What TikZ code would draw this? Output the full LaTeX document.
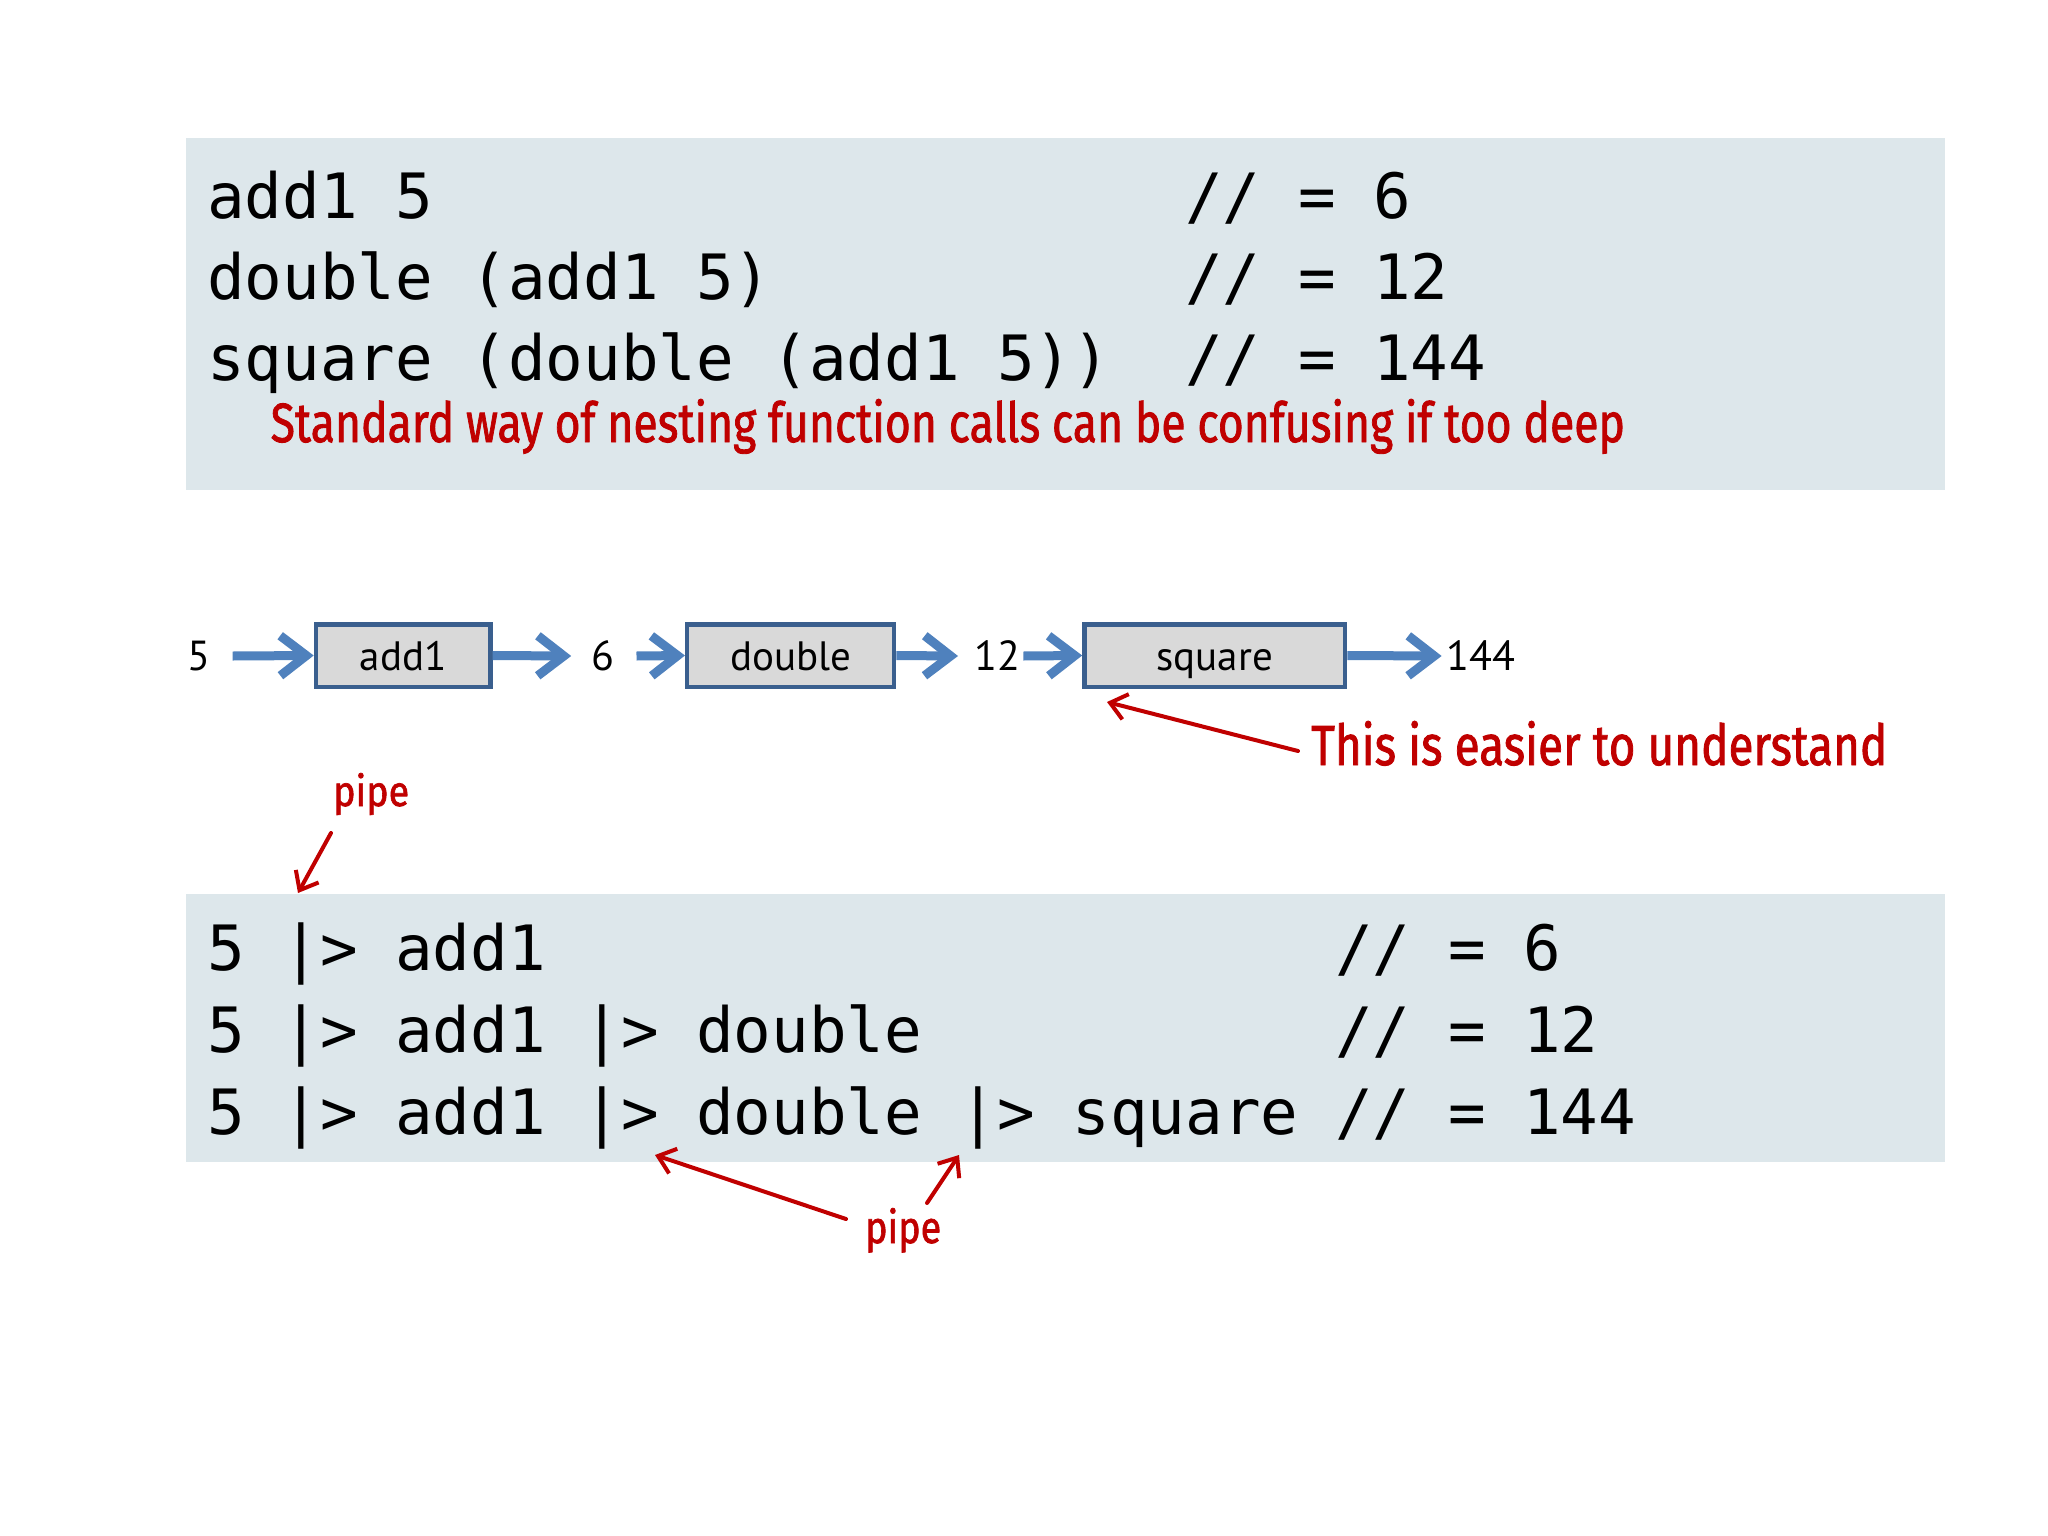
\documentclass[tikz,border=0pt]{standalone}
\usepackage{fontspec}
\usetikzlibrary{arrows.meta}
\newfontfamily\codefont{DejaVu Sans Mono}
\newfontfamily\labfont{PT Sans}
\newfontfamily\handfont[FakeBold=1.6]{Fira Sans}
\definecolor{panel}{RGB}{221,231,235}
\definecolor{hred}{RGB}{192,0,0}
\definecolor{flowblue}{RGB}{79,129,189}
\definecolor{boxedge}{RGB}{58,95,142}
\definecolor{boxfill}{RGB}{217,217,217}
\newcommand\handtext[3]{\resizebox{#1}{#2}{\handfont #3}}
\begin{document}
\begin{tikzpicture}[x=1pt,y=-1pt,
 panelbox/.style={fill=panel,draw=none},
 code/.style={anchor=base west,inner sep=0pt,font=\codefont\fontsize{62.5}{75}\selectfont},
 fnbox/.style={draw=boxedge,line width=4.5pt,fill=boxfill,inner sep=0pt,minimum height=62.5pt,text height=30pt,text depth=0pt,font=\labfont\fontsize{41}{50}\selectfont},
 num/.style={anchor=base,inner sep=0pt,font=\labfont\fontsize{42}{50}\selectfont},
 flow/.style={draw=flowblue,line width=9pt,-{Straight Barb[length=26pt,width=40pt]}},
 note/.style={anchor=base west,inner sep=0pt,text=hred},
 notearrow/.style={draw=hred,line width=4pt,line cap=round,-{Straight Barb[length=16pt,width=26pt]}}
]
\fill[white] (0,0) rectangle (2048,1536);
\useasboundingbox (0,0) rectangle (2048,1536);

% panels
\fill[panelbox] (185.5,138.5) rectangle (1945,490);
\fill[panelbox] (185.5,894) rectangle (1945,1162);

% top code
\node[code] (t1) at (207,218) {add1 5};
\node[code] (t2) at (207,299) {double (add1 5)};
\node[code] (t3) at (207,380) {square (double (add1 5))};
\node[code] (c1) at (1185,218) {// = 6};
\node[code] (c2) at (1185,299) {// = 12};
\node[code] (c3) at (1185,380) {// = 144};
\node[note] (std) at (270.5,442) {\handtext{1354pt}{43pt}{Standard way of nesting function calls can be confusing if too deep}};

% flow
\node[fnbox,minimum width=174.5pt] (add1) at (403.2,655.5) {add1};
\node[fnbox,minimum width=207pt] (dbl) at (790.7,655.5) {double};
\node[fnbox,minimum width=260.8pt] (sq) at (1214.8,655.5) {square};
\node[num] (n5) at (198.7,670) {5};
\node[num] (n6) at (602.5,670) {6};
\node[num] (n12) at (997,670) {12};
\node[num] (n144) at (1481,670) {144};
\coordinate (a1s) at (232.6,656);
\coordinate (a2e) at (571.2,656);
\coordinate (a3s) at (636.5,656);
\coordinate (a4e) at (958,656);
\coordinate (a5s) at (1023.4,656);
\coordinate (a6e) at (1441.6,656);
\draw[flow] (a1s) -- (add1.west);
\draw[flow] (add1.east) -- (a2e);
\draw[flow] (a3s) -- (dbl.west);
\draw[flow] (dbl.east) -- (a4e);
\draw[flow] (a5s) -- (sq.west);
\draw[flow] (sq.east) -- (a6e);

% note: easier
\node[note] (easy) at (1311,765) {\handtext{576pt}{44pt}{This is easier to understand}};
\coordinate (e1) at (1298,751);
\coordinate (e2) at (1107,702);
\draw[notearrow] (e1) -- (e2);

% pipe top-left
\node[note] (pipe1) at (333,806) {\handtext{76pt}{33pt}{pipe}};
\coordinate (p1s) at (331,833);
\coordinate (p1e) at (298,893);
\draw[notearrow] (p1s) -- (p1e);

% bottom code
\node[code] (b1) at (207,970) {5 |> add1};
\node[code] (b2) at (207,1052) {5 |> add1 |> double};
\node[code] (b3) at (207,1134) {5 |> add1 |> double |> square};
\node[code] (d1) at (1335,970) {// = 6};
\node[code] (d2) at (1335,1052) {// = 12};
\node[code] (d3) at (1335,1134) {// = 144};

% pipe bottom
\node[note] (pipe2) at (865,1243) {\handtext{76pt}{35pt}{pipe}};
\coordinate (p2s) at (846,1219);
\coordinate (p2e) at (655,1155);
\coordinate (p3s) at (927,1203);
\coordinate (p3e) at (959,1155);
\draw[notearrow] (p2s) -- (p2e);
\draw[notearrow] (p3s) -- (p3e);
\end{tikzpicture}
\end{document}
